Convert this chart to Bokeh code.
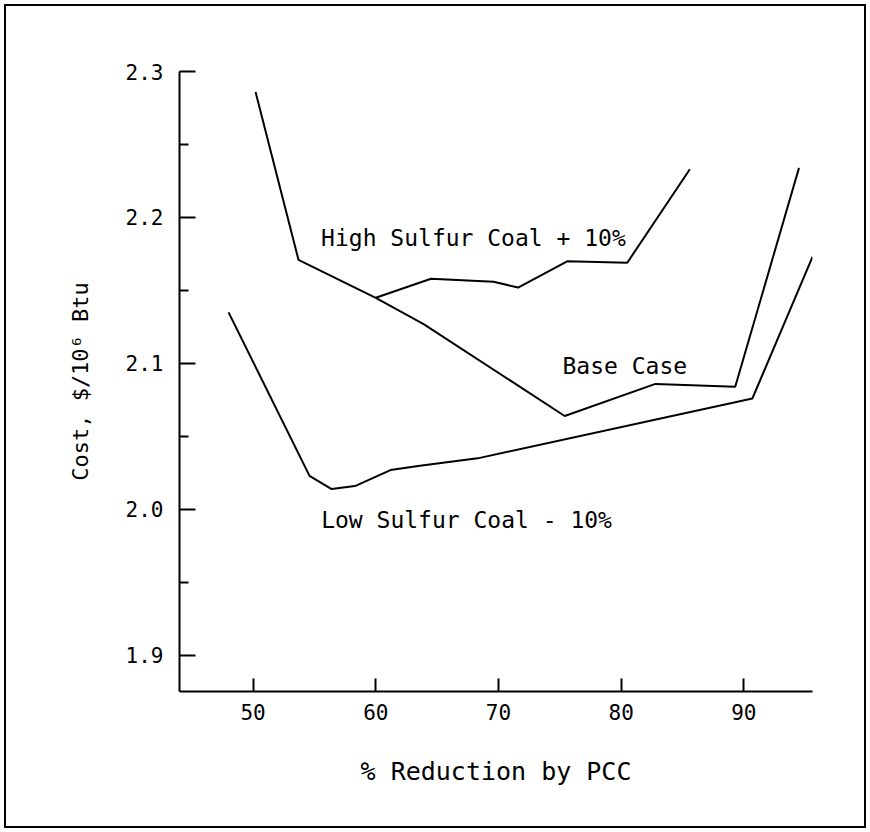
from bokeh.plotting import figure
from bokeh.models import Range1d, FixedTicker, Label, PrintfTickFormatter, InlineStyleSheet
from bokeh.embed import file_html
from bokeh.resources import INLINE

# Data
base_x = [50.2, 53.7, 60.0, 63.9, 75.4, 82.8, 89.3, 94.5]
base_y = [2.286, 2.171, 2.145, 2.127, 2.064, 2.086, 2.084, 2.234]

high_x = [60.0, 64.5, 69.6, 71.6, 75.6, 80.5, 85.6]
high_y = [2.145, 2.158, 2.156, 2.152, 2.170, 2.169, 2.233]

low_x = [48.0, 54.6, 56.4, 58.3, 61.2, 63.6, 68.3, 90.7, 95.6]
low_y = [2.135, 2.023, 2.014, 2.016, 2.027, 2.030, 2.035, 2.076, 2.173]

x_ticks = [50, 60, 70, 80, 90]
y_ticks = [1.9, 2.0, 2.1, 2.2, 2.3]
y_minor = [1.95, 2.05, 2.15, 2.25]

FONT = "DejaVu Sans Mono"

p = figure(width=870, height=832, output_backend="svg", toolbar_location=None,
           x_range=Range1d(44.0, 95.6), y_range=Range1d(1.8753, 2.3),
           min_border_left=179, min_border_right=58, min_border_top=71,
           min_border_bottom=141)
p.outline_line_color = None
p.grid.visible = False
p.background_fill_color = "white"
p.border_fill_color = None

for xs, ys in ((base_x, base_y), (high_x, high_y), (low_x, low_y)):
    p.line(xs, ys, line_color="black", line_width=2)

xa = p.xaxis[0]
xa.ticker = FixedTicker(ticks=x_ticks)
xa.axis_line_width = 2
xa.major_tick_in = 13
xa.major_tick_out = 0
xa.major_tick_line_width = 2
xa.minor_tick_line_color = None
xa.major_label_text_font = FONT
xa.major_label_text_font_size = "21px"
xa.major_label_text_color = "black"
xa.major_label_standoff = 12
xa.axis_label = "% Reduction by PCC"
xa.axis_label_text_font = FONT
xa.axis_label_text_font_size = "25px"
xa.axis_label_text_font_style = "normal"
xa.axis_label_text_color = "black"
xa.axis_label_standoff = 34

ya = p.yaxis[0]
ya.ticker = FixedTicker(ticks=y_ticks, minor_ticks=y_minor)
ya.formatter = PrintfTickFormatter(format="%.1f")
ya.axis_line_width = 2
ya.major_tick_in = 16
ya.major_tick_out = 0
ya.minor_tick_in = 9
ya.minor_tick_out = 0
ya.major_tick_line_width = 2
ya.minor_tick_line_width = 2
ya.major_label_text_font = FONT
ya.major_label_text_font_size = "21px"
ya.major_label_text_color = "black"
ya.major_label_standoff = 16
ya.axis_label = "Cost, $/10\u2076 Btu"
ya.axis_label_text_font = FONT
ya.axis_label_text_font_size = "22px"
ya.axis_label_text_font_style = "normal"
ya.axis_label_text_color = "black"
ya.axis_label_standoff = 30

for txt, lx, ly in (("High Sulfur Coal + 10%", 67.96, 2.186),
                    ("Base Case", 80.3, 2.098),
                    ("Low Sulfur Coal - 10%", 67.4, 1.993)):
    p.add_layout(Label(x=lx, y=ly, text=txt, text_align="center",
                       text_baseline="middle", text_font=FONT,
                       text_font_size="23px", text_color="black"))

# rectangle drawn around the whole figure (seen through the transparent border area)
p.stylesheets = [InlineStyleSheet(css=":host { background-color: white; "
                                      "box-shadow: inset 0 0 0 4px white, inset 0 0 0 6px black; }")]

open("out.html", "w").write(file_html(p, INLINE))
